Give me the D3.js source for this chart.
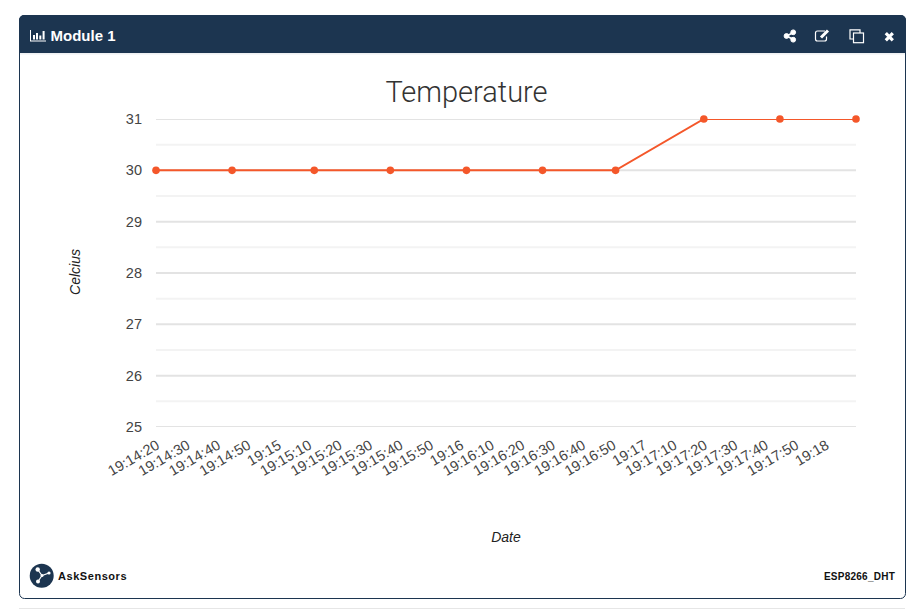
<!DOCTYPE html>
<html>
<head>
<meta charset="utf-8">
<title>Module 1</title>
<script src="https://cdn.jsdelivr.net/npm/d3@7"></script>
<style>
  body { margin: 0; background: #fff; overflow: hidden; }
  text { font-family: "Liberation Sans", Arial, sans-serif; }
</style>
</head>
<body>
<div id="chart"></div>
<script>
// readings
const readingTimes = ["19:14:20", "19:14:45", "19:15:12", "19:15:37", "19:16:02",
  "19:16:27", "19:16:51", "19:17:20", "19:17:45", "19:18:10"];
const readingValues = [30, 30, 30, 30, 30, 30, 30, 31, 31, 31];

const tickLabels = ["19:14:20", "19:14:30", "19:14:40", "19:14:50", "19:15", "19:15:10",
  "19:15:20", "19:15:30", "19:15:40", "19:15:50", "19:16", "19:16:10", "19:16:20",
  "19:16:30", "19:16:40", "19:16:50", "19:17", "19:17:10", "19:17:20", "19:17:30",
  "19:17:40", "19:17:50", "19:18"];
const valueTicks = [25, 26, 27, 28, 29, 30, 31];
const minorTicks = [25.5, 26.5, 27.5, 28.5, 29.5, 30.5];

const navy = "#1c3550";
const orange = "#f4572a";

const parseSec = d3.utcParse("%H:%M:%S");
const parseMin = d3.utcParse("%H:%M");
const toTime = (s) => (s.length > 5 ? parseSec(s) : parseMin(s));

const svg = d3.select("#chart").append("svg")
  .attr("width", 924)
  .attr("height", 610);

// card
svg.append("rect")
  .attr("x", 19.5).attr("y", 15.5)
  .attr("width", 886).attr("height", 583)
  .attr("rx", 5)
  .attr("fill", "#fff")
  .attr("stroke", navy);
svg.append("path")
  .attr("d", "M19,53V20a5,5 0 0 1 5,-5H901a5,5 0 0 1 5,5V53Z")
  .attr("fill", navy);
svg.append("rect").attr("x", 20).attr("y", 53).attr("width", 885).attr("height", 1.5).attr("fill", "#eef0f2");
svg.append("rect").attr("x", 19).attr("y", 608).attr("width", 886).attr("height", 1).attr("fill", "#e6e6e6");

// header
const icon = svg.append("g").attr("fill", "#fff");
icon.append("path").attr("d", "M30,30h1V40.5H46V41.5H30Z");
icon.append("path").attr("d", "M33,35h2V39.5h-2ZM36,33h2V39.5h-2ZM39.3,35.5h2V39.5h-2ZM42.6,31h2V39.5h-2Z");
svg.append("text").attr("x", 50.5).attr("y", 41)
  .attr("font-size", 15).attr("font-weight", 700).attr("fill", "#fff")
  .text("Module 1");

// header buttons
const share = svg.append("g").attr("fill", "#fff").attr("stroke", "#fff");
share.append("path").attr("d", "M793.5,32.5L786.5,36L793.5,39.5").attr("fill", "none").attr("stroke-width", 1.6);
share.append("circle").attr("cx", 786.5).attr("cy", 36).attr("r", 2.4);
share.append("circle").attr("cx", 793.2).attr("cy", 32.3).attr("r", 2.4);
share.append("circle").attr("cx", 793.2).attr("cy", 39.7).attr("r", 2.4);

const edit = svg.append("g").attr("fill", "none").attr("stroke", "#fff");
edit.append("path").attr("d", "M826.5,36.5V39a2,2 0 0 1 -2,2H817.5a2,2 0 0 1 -2,-2V33a2,2 0 0 1 2,-2H825").attr("stroke-width", 1.2);
edit.append("path").attr("d", "M821,37.5L828,30.5").attr("stroke-width", 3);

const copy = svg.append("g").attr("fill", "none").attr("stroke", "#fff").attr("stroke-width", 1.2);
copy.append("path").attr("d", "M853.5,39H850V29.8H860V33");
copy.append("rect").attr("x", 853.5).attr("y", 33).attr("width", 10).attr("height", 9.7);

svg.append("path").attr("d", "M885.8,33.2L892.8,40.3M892.8,33.2L885.8,40.3")
  .attr("stroke", "#fff").attr("stroke-width", 3.2).attr("fill", "none");

// scales
const x = d3.scaleUtc()
  .domain([toTime(readingTimes[0]), toTime(readingTimes[readingTimes.length - 1])])
  .range([156, 856]);
const y = d3.scaleLinear().domain([25, 31]).range([427, 119]);

svg.append("text").attr("x", 466.5).attr("y", 102)
  .attr("text-anchor", "middle")
  .attr("font-size", 29)
  .attr("fill", "#333")
  .style("font-family", "Roboto, sans-serif")
  .style("font-weight", 300)
  .text("Temperature");

svg.append("defs").append("clipPath").attr("id", "plot")
  .append("rect").attr("x", 156).attr("y", 119).attr("width", 700).attr("height", 308);

const plot = svg.append("g").attr("clip-path", "url(#plot)");

// grid
plot.selectAll(".minor").data(minorTicks).enter().append("line")
  .attr("class", "minor")
  .attr("x1", 156).attr("x2", 856)
  .attr("y1", (d) => y(d)).attr("y2", (d) => y(d))
  .attr("stroke", "#f3f3f3").attr("stroke-width", 2);
plot.selectAll(".major").data(valueTicks).enter().append("line")
  .attr("class", "major")
  .attr("x1", 156).attr("x2", 856)
  .attr("y1", (d) => y(d)).attr("y2", (d) => y(d))
  .attr("stroke", "#e3e3e3").attr("stroke-width", 2);

// axes
const yAxis = svg.append("g")
  .attr("transform", "translate(156,0)")
  .call(d3.axisLeft(y).tickValues(valueTicks).tickFormat(d3.format("d")).tickSize(0).tickPadding(14));
yAxis.select(".domain").remove();
yAxis.selectAll("text").attr("font-size", 14.5).attr("fill", "#444")
  .style("font-family", "'Liberation Sans', Arial, sans-serif");

const xAxis = svg.append("g")
  .attr("transform", "translate(0,427)")
  .call(d3.axisBottom(x)
    .tickValues(tickLabels.map(toTime))
    .tickFormat((d, i) => tickLabels[i])
    .tickSize(0));
xAxis.select(".domain").remove();
xAxis.selectAll("text")
  .attr("font-size", 14.5)
  .attr("fill", "#444")
  .style("font-family", "'Liberation Sans', Arial, sans-serif")
  .attr("text-anchor", "end")
  .attr("dy", null)
  .attr("y", 0)
  .attr("transform", "translate(4,21) rotate(-30)");

// series
const points = readingTimes.map((t, i) => ({ t: toTime(t), v: readingValues[i] }));
const line = d3.line().x((d) => x(d.t)).y((d) => y(d.v));
plot.append("path")
  .datum(points)
  .attr("d", line)
  .attr("fill", "none")
  .attr("stroke", orange)
  .attr("stroke-width", 2);
svg.selectAll(".dot").data(points).enter().append("circle")
  .attr("class", "dot")
  .attr("cx", (d) => x(d.t))
  .attr("cy", (d) => y(d.v))
  .attr("r", 3.8)
  .attr("fill", orange);

// axis titles
svg.append("text").attr("x", 506).attr("y", 542)
  .attr("text-anchor", "middle").attr("font-size", 14).attr("font-style", "italic").attr("fill", "#222")
  .text("Date");
svg.append("text")
  .attr("transform", "translate(80,272) rotate(-90)")
  .attr("text-anchor", "middle").attr("font-size", 14).attr("font-style", "italic").attr("fill", "#222")
  .text("Celcius");

// footer
const logo = svg.append("g");
logo.append("circle").attr("cx", 41.7).attr("cy", 575.7).attr("r", 12).attr("fill", navy);
logo.append("path").attr("d", "M37.7,569.5L42,575.5L49,573M42,575.5L38,581.5").attr("fill", "none").attr("stroke", "#fff").attr("stroke-width", 1.2);
logo.append("circle").attr("cx", 37.7).attr("cy", 569.5).attr("r", 2.2).attr("fill", "#fff");
logo.append("circle").attr("cx", 42).attr("cy", 575.5).attr("r", 1.5).attr("fill", "#fff");
logo.append("circle").attr("cx", 49).attr("cy", 573).attr("r", 1.6).attr("fill", "#fff");
logo.append("circle").attr("cx", 38).attr("cy", 581.5).attr("r", 2).attr("fill", "#fff");

svg.append("text").attr("x", 58).attr("y", 580)
  .attr("font-size", 11).attr("font-weight", 700).attr("letter-spacing", 0.55).attr("fill", "#111")
  .text("AskSensors");
svg.append("text").attr("x", 895).attr("y", 580)
  .attr("text-anchor", "end")
  .attr("font-size", 10).attr("font-weight", 700).attr("letter-spacing", 0.25).attr("fill", "#111")
  .text("ESP8266_DHT");
</script>
</body>
</html>
